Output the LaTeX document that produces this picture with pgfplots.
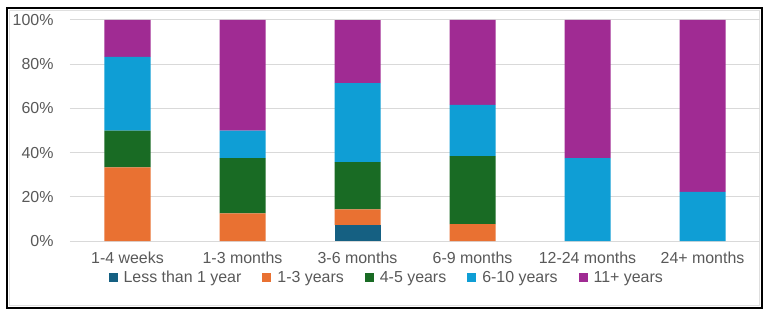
\documentclass[border=0pt]{standalone}
\usepackage{pgfplots}
\pgfplotsset{compat=1.18}
\usepackage{fontspec}
\setmainfont{Liberation Sans}
\definecolor{cLess}{HTML}{156082}
\definecolor{cOne}{HTML}{E97132}
\definecolor{cFour}{HTML}{196B24}
\definecolor{cSix}{HTML}{0F9ED5}
\definecolor{cEleven}{HTML}{A02B93}
\definecolor{gridc}{HTML}{D9D9D9}
\definecolor{txt}{HTML}{595959}
\begin{document}
\begin{tikzpicture}[x=1bp,y=1bp]
\path[use as bounding box,fill=white] (-70,-76) rectangle (701,241);
% outer frame with a faint inner edge
\draw[gray!25,line width=1bp] (-60,-64) rectangle (689,231);
\draw[black,line width=2bp] (-62.5,-67) rectangle (691.5,233.5);
\begin{axis}[
  at={(0,0)}, anchor=south west,
  scale only axis, width=690bp, height=221bp,
  ybar stacked, bar width=46bp,
  xmin=-0.5, xmax=5.5, ymin=0, ymax=100,
  xtick={0,1,2,3,4,5},
  xticklabels={1-4 weeks,1-3 months,3-6 months,6-9 months,12-24 months,24+ months},
  ytick={0,20,40,60,80,100},
  yticklabels={0\%,20\%,40\%,60\%,80\%,100\%},
  ymajorgrids, grid style={gridc,line width=1bp},
  axis line style={draw=none},
  major tick length=0pt,
  tick label style={font=\fontsize{16}{19}\selectfont, text=txt},
  xticklabel style={yshift=-7bp},
  yticklabel style={xshift=-13bp},
  legend style={at={(0.459,-0.166)}, anchor=center, draw=none, fill=none,
    font=\fontsize{16}{19}\selectfont, text=txt, legend columns=5,
    /tikz/every even column/.append style={column sep=19bp},
    inner sep=0pt},
  legend image code/.code={\fill[#1] (0bp,-4.5bp) rectangle (9bp,4.5bp); \path (13bp,0bp);},
  legend cell align=left,
]
\addplot[fill=cLess, draw=none] coordinates {(0,0) (1,0) (2,7.14) (3,0) (4,0) (5,0)};
\addplot[fill=cOne, draw=none] coordinates {(0,33.33) (1,12.5) (2,7.14) (3,7.69) (4,0) (5,0)};
\addplot[fill=cFour, draw=none] coordinates {(0,16.67) (1,25) (2,21.43) (3,30.77) (4,0) (5,0)};
\addplot[fill=cSix, draw=none] coordinates {(0,33.33) (1,12.5) (2,35.71) (3,23.08) (4,37.5) (5,22.22)};
\addplot[fill=cEleven, draw=none] coordinates {(0,16.67) (1,50) (2,28.57) (3,38.46) (4,62.5) (5,77.78)};
\legend{Less than 1 year,1-3 years,4-5 years,6-10 years,11+ years}
\end{axis}
\end{tikzpicture}
\end{document}
